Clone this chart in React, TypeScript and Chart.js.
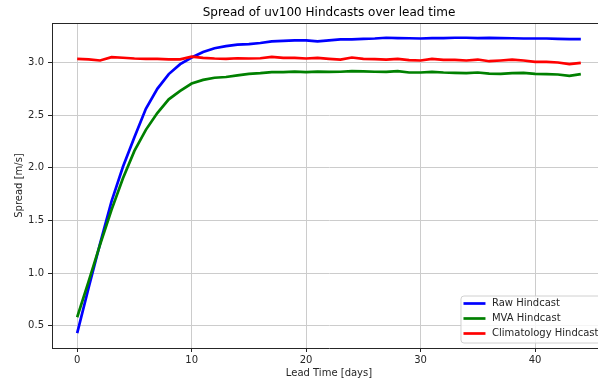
import { useEffect, useRef } from "react";
import { Chart, registerables } from "chart.js";

Chart.register(...registerables);

const leadDays = [
  0, 1, 2, 3, 4, 5, 6, 7, 8, 9, 10, 11, 12, 13, 14, 15, 16, 17, 18, 19, 20, 21, 22,
  23, 24, 25, 26, 27, 28, 29, 30, 31, 32, 33, 34, 35, 36, 37, 38, 39, 40, 41, 42, 43, 44,
];

const rawHindcast = [
  0.43, 0.86, 1.28, 1.68, 2.01, 2.29, 2.56, 2.75, 2.89, 2.984, 3.047, 3.1, 3.135, 3.155,
  3.17, 3.174, 3.185, 3.2, 3.205, 3.21, 3.21, 3.2, 3.21, 3.22, 3.22, 3.225, 3.228, 3.235,
  3.232, 3.23, 3.228, 3.232, 3.232, 3.235, 3.235, 3.232, 3.234, 3.232, 3.23, 3.228, 3.228,
  3.228, 3.224, 3.222, 3.222,
];

const mvaHindcast = [
  0.58, 0.92, 1.27, 1.6, 1.9, 2.16, 2.36, 2.52, 2.65, 2.73, 2.8, 2.835, 2.855, 2.862,
  2.878, 2.892, 2.898, 2.908, 2.908, 2.914, 2.908, 2.914, 2.91, 2.912, 2.918, 2.916, 2.912,
  2.911, 2.917, 2.905, 2.905, 2.911, 2.905, 2.902, 2.898, 2.905, 2.895, 2.892, 2.898, 2.902,
  2.892, 2.889, 2.886, 2.873, 2.889,
];

const climHindcast = [
  3.034, 3.03, 3.019, 3.05, 3.045, 3.038, 3.034, 3.034, 3.03, 3.03, 3.055, 3.044, 3.038,
  3.035, 3.04, 3.038, 3.04, 3.053, 3.044, 3.044, 3.038, 3.044, 3.035, 3.028, 3.047, 3.035,
  3.032, 3.028, 3.035, 3.022, 3.019, 3.035, 3.025, 3.025, 3.019, 3.028, 3.012, 3.019, 3.028,
  3.019, 3.006, 3.006, 3.0, 2.984, 2.997,
];

const seriesNames = ["Raw Hindcast", "MVA Hindcast", "Climatology Hindcast"];
const seriesColors = ["#0000ff", "#008000", "#ff0000"];
const xTicks = [0, 10, 20, 30, 40];
const yTicks = [0.5, 1.0, 1.5, 2.0, 2.5, 3.0];
const chartTitle = "Spread of uv100 Hindcasts over lead time";
const xTitle = "Lead Time [days]";
const yTitle = "Spread [m/s]";

const FONT = "'DejaVu Sans', sans-serif";
const TEXT = "#262626";

const decorPlugin = {
  id: "decor",
  afterDraw(chart: any) {
    const { ctx, chartArea: a } = chart;
    ctx.save();
    // top & right spines
    ctx.strokeStyle = TEXT;
    ctx.lineWidth = 1;
    ctx.beginPath();
    ctx.moveTo(a.left, a.top + 0.5);
    ctx.lineTo(a.right, a.top + 0.5);
    ctx.lineTo(a.right, a.bottom);
    ctx.stroke();

    // title
    ctx.fillStyle = "#000";
    ctx.font = `12px ${FONT}`;
    ctx.textAlign = "center";
    ctx.textBaseline = "middle";
    ctx.fillText(chartTitle, (a.left + a.right) / 2, 13);

    // legend (lower right)
    ctx.font = `10px ${FONT}`;
    const ds = chart.data.datasets;
    let maxW = 0;
    ds.forEach((d: any) => {
      maxW = Math.max(maxW, ctx.measureText(d.label).width);
    });
    const boxRight = a.right - 2.5;
    const boxBottom = a.bottom - 5;
    const boxW = 31 + maxW + 5;
    const boxH = 47;
    const boxLeft = boxRight - boxW;
    const boxTop = boxBottom - boxH;
    const r = 3;
    ctx.beginPath();
    ctx.moveTo(boxLeft + r, boxTop);
    ctx.lineTo(boxRight - r, boxTop);
    ctx.quadraticCurveTo(boxRight, boxTop, boxRight, boxTop + r);
    ctx.lineTo(boxRight, boxBottom - r);
    ctx.quadraticCurveTo(boxRight, boxBottom, boxRight - r, boxBottom);
    ctx.lineTo(boxLeft + r, boxBottom);
    ctx.quadraticCurveTo(boxLeft, boxBottom, boxLeft, boxBottom - r);
    ctx.lineTo(boxLeft, boxTop + r);
    ctx.quadraticCurveTo(boxLeft, boxTop, boxLeft + r, boxTop);
    ctx.closePath();
    ctx.fillStyle = "rgba(255,255,255,0.8)";
    ctx.fill();
    ctx.strokeStyle = "#d0d0d0";
    ctx.lineWidth = 1;
    ctx.stroke();

    ds.forEach((d: any, i: number) => {
      const y = boxTop + 7.5 + i * 15;
      ctx.strokeStyle = d.borderColor;
      ctx.lineWidth = 2.7;
      ctx.beginPath();
      ctx.moveTo(boxLeft + 2.5, y);
      ctx.lineTo(boxLeft + 24.5, y);
      ctx.stroke();
      ctx.fillStyle = TEXT;
      ctx.textAlign = "left";
      ctx.textBaseline = "middle";
      ctx.fillText(d.label, boxLeft + 31, y);
    });
    ctx.restore();
  },
};

export default function App() {
  const ref = useRef<HTMLCanvasElement>(null);

  useEffect(() => {
    if (!ref.current) return;
    const series = [rawHindcast, mvaHindcast, climHindcast];
    const chart = new Chart(ref.current, {
      type: "line",
      data: {
        datasets: series.map((vals, i) => ({
          label: seriesNames[i],
          data: leadDays.map((d, j) => ({ x: d, y: vals[j] })),
          borderColor: seriesColors[i],
          backgroundColor: seriesColors[i],
          borderWidth: 2.7,
          pointRadius: 0,
          tension: 0,
          fill: false,
          order: 2 - i,
        })),
      },
      options: {
        animation: false,
        responsive: false,
        devicePixelRatio: 1,
        layout: { padding: { top: 23, right: 14, left: 0, bottom: 0 } },
        plugins: {
          legend: { display: false },
          title: { display: false },
          tooltip: { enabled: false },
        },
        scales: {
          x: {
            type: "linear",
            min: -2.2,
            max: 46.2,
            afterBuildTicks: (s: any) => {
              s.ticks = xTicks.map((v) => ({ value: v }));
            },
            afterFit: (s: any) => {
              s.height = 37;
            },
            grid: {
              color: "#cccccc",
              lineWidth: 1,
              drawTicks: true,
              tickLength: 4,
              tickColor: TEXT,
            },
            border: { display: true, color: TEXT, width: 1 },
            ticks: {
              font: { family: FONT, size: 10 },
              color: TEXT,
              padding: 2,
              maxRotation: 0,
              autoSkip: false,
              callback: (v: any) => String(Math.round(Number(v))),
            },
            title: {
              display: true,
              text: xTitle,
              font: { family: FONT, size: 10 },
              color: TEXT,
              padding: { top: 0, bottom: 6 },
            },
          },
          y: {
            type: "linear",
            min: 0.288,
            max: 3.375,
            afterBuildTicks: (s: any) => {
              s.ticks = yTicks.map((v) => ({ value: v }));
            },
            afterFit: (s: any) => {
              s.width = 52;
            },
            grid: {
              color: "#cccccc",
              lineWidth: 1,
              drawTicks: true,
              tickLength: 4,
              tickColor: TEXT,
            },
            border: { display: true, color: TEXT, width: 1 },
            ticks: {
              font: { family: FONT, size: 10 },
              color: TEXT,
              padding: 4,
              autoSkip: false,
              callback: (v: any) => Number(v).toFixed(1),
            },
            title: {
              display: true,
              text: yTitle,
              font: { family: FONT, size: 10 },
              color: TEXT,
              padding: { top: 13, bottom: 0 },
            },
          },
        },
      },
      plugins: [decorPlugin],
    });
    return () => chart.destroy();
  }, []);

  return (
    <div
      style={{
        position: "fixed",
        left: 0,
        top: 0,
        width: 598,
        height: 385,
        overflow: "hidden",
        background: "#fff",
      }}
    >
      <canvas ref={ref} width={620} height={385} style={{ display: "block" }} />
    </div>
  );
}
